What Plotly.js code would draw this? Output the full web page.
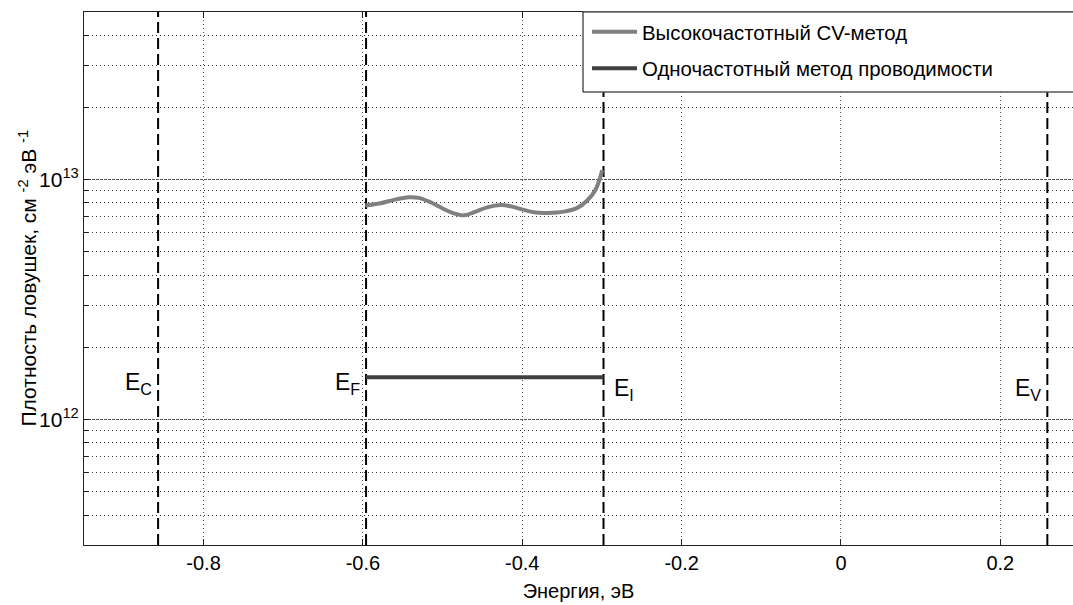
<!DOCTYPE html>
<html>
<head>
<meta charset="utf-8">
<script src="https://cdn.plot.ly/plotly-3.0.1.min.js"></script>
<style>
html,body{margin:0;padding:0;overflow:hidden;background:#fff;}
#chart{width:1073px;height:605px;}
</style>
</head>
<body>
<div id="chart"></div>
<script>
// Energy (eV) and trap density (cm^-2 eV^-1) — high-frequency CV method
const energyCV = [-0.5969, -0.578, -0.561, -0.5425, -0.530, -0.515, -0.4985, -0.486, -0.473, -0.461, -0.444, -0.427, -0.4126, -0.398, -0.3854, -0.3687, -0.3477, -0.331, -0.3184, -0.308, -0.2996];
const ditCV = [7.80e12, 7.97e12, 8.24e12, 8.45e12, 8.40e12, 8.05e12, 7.55e12, 7.24e12, 7.10e12, 7.31e12, 7.67e12, 7.85e12, 7.72e12, 7.48e12, 7.31e12, 7.27e12, 7.36e12, 7.63e12, 8.19e12, 9.08e12, 1.094e13];

// Single-frequency conductance method
const energyG = [-0.596, -0.298];
const ditG = [1.5e12, 1.5e12];

// Characteristic energy levels
const levelNames = ['C', 'F', 'I', 'V'];
const levelEnergy = [-0.857, -0.596, -0.298, 0.259];

// Axis settings (the right part of the axes is cut off by the figure edge)
const xRange = [-0.95, 0.2912];
const yRange = [3e11, 5e13];
const xTickVals = [-0.8, -0.6, -0.4, -0.2, 0, 0.2];
const xTickText = ['-0.8', '-0.6', '-0.4', '-0.2', '0', '0.2'];
const yTickVals = [1e12, 1e13];
const yTickText = ['10<sup>12</sup>', '10<sup>13</sup>'];
const minorMult = [2, 3, 4, 5, 6, 7, 8, 9];
const minorDecades = [1e11, 1e12, 1e13];

const seriesNames = ['Высокочастотный CV-метод', 'Одночастотный метод проводимости'];
const xTitle = 'Энергия, эВ';
const yTitle = 'Плотность ловушек, см <sup>-2</sup> эВ <sup>-1</sup>';

const FONT = '"Liberation Sans", Arial, sans-serif';

const minorVals = [];
minorDecades.forEach(d => minorMult.forEach(m => minorVals.push(m * d)));

const traces = [];
levelEnergy.forEach((e) => {
  traces.push({
    x: [e, e], y: yRange, mode: 'lines', showlegend: false, hoverinfo: 'skip',
    line: {color: '#000', width: 2, dash: '11px,5px'}
  });
});
traces.push({
  x: energyCV, y: ditCV, mode: 'lines', name: seriesNames[0], legendgroup: 'a',
  line: {color: '#808080', width: 4, shape: 'spline', smoothing: 1}
});
traces.push({
  x: energyG, y: ditG, mode: 'lines', name: seriesNames[1], legendgroup: 'b',
  line: {color: '#404040', width: 4}
});

const labelShift = {C: [-4, 0], F: [-4, 0], I: [8, -6], V: [-4, -6]};
const annotations = levelNames.map((n, i) => ({
  x: levelEnergy[i], y: Math.log10(ditG[0]), xref: 'x', yref: 'y',
  text: 'E<sub>' + n + '</sub>', showarrow: false,
  xanchor: labelShift[n][0] < 0 ? 'right' : 'left', yanchor: 'top',
  xshift: labelShift[n][0], yshift: labelShift[n][1] + 10,
  font: {family: FONT, size: 23, color: '#000'}
}));
// y-axis title as a rotated annotation (placed close to the tick labels)
annotations.push({
  x: 0, y: 0.5, xref: 'paper', yref: 'paper', xanchor: 'center', yanchor: 'middle',
  xshift: -57, text: yTitle, textangle: -90, showarrow: false,
  font: {family: FONT, size: 21, color: '#000'}
});

const plotW = 1073 - 84;
const boxLeft = (583 - 84) / plotW, boxBottom = 1 - 80 / 533;
const layout = {
  width: 1073, height: 605,
  margin: {l: 84, r: 0, t: 12, b: 60, pad: 0},
  paper_bgcolor: '#fff', plot_bgcolor: '#fff',
  font: {family: FONT, size: 20, color: '#000'},
  showlegend: true,
  legend: {
    x: (587 - 84) / plotW, xanchor: 'left', y: 1, yanchor: 'top',
    bgcolor: 'rgba(0,0,0,0)', borderwidth: 0, itemwidth: 45,
    font: {family: FONT, size: 20.4, color: '#000'},
    traceorder: 'grouped', tracegroupgap: 7
  },
  xaxis: {
    range: xRange, tickmode: 'array', tickvals: xTickVals, ticktext: xTickText,
    showline: true, linecolor: '#222', linewidth: 1, mirror: 'ticks',
    ticks: 'inside', ticklen: 6, tickcolor: '#222',
    showgrid: true, gridcolor: '#555', griddash: '1px,3px', gridwidth: 1,
    zeroline: false,
    tickfont: {family: FONT, size: 20},
    title: {text: xTitle, font: {family: FONT, size: 20}, standoff: 10}
  },
  yaxis: {
    type: 'log', range: [Math.log10(yRange[0]), Math.log10(yRange[1])],
    tickmode: 'array', tickvals: yTickVals, ticktext: yTickText,
    showline: true, linecolor: '#222', linewidth: 1, mirror: false,
    ticks: 'inside', ticklen: 6, tickcolor: '#222',
    showgrid: true, gridcolor: '#555', griddash: '3px,1px', gridwidth: 1,
    zeroline: false,
    tickfont: {family: FONT, size: 21},
    minor: {tickmode: 'array', tickvals: minorVals, ticks: 'inside', ticklen: 4, tickcolor: '#222',
            showgrid: true, gridcolor: '#333', griddash: '1px,3px', gridwidth: 1}
  },
  shapes: [
    {type: 'rect', xref: 'paper', yref: 'paper', x0: boxLeft, x1: 1.03, y0: boxBottom, y1: 1,
     fillcolor: '#fff', line: {width: 1, color: '#fff'}, layer: 'above'},
    {type: 'line', xref: 'paper', yref: 'paper', x0: boxLeft, x1: boxLeft, y0: boxBottom, y1: 1,
     line: {color: '#000', width: 1}, layer: 'above'},
    {type: 'line', xref: 'paper', yref: 'paper', x0: boxLeft, x1: 1.03, y0: boxBottom, y1: boxBottom,
     line: {color: '#000', width: 1}, layer: 'above'},
    {type: 'line', xref: 'paper', yref: 'paper', x0: boxLeft, x1: 1.03, y0: 1, y1: 1,
     line: {color: '#222', width: 1}, layer: 'above'}
  ],
  annotations: annotations
};

Plotly.newPlot('chart', traces, layout, {displayModeBar: false, responsive: false, staticPlot: true});
</script>
</body>
</html>
